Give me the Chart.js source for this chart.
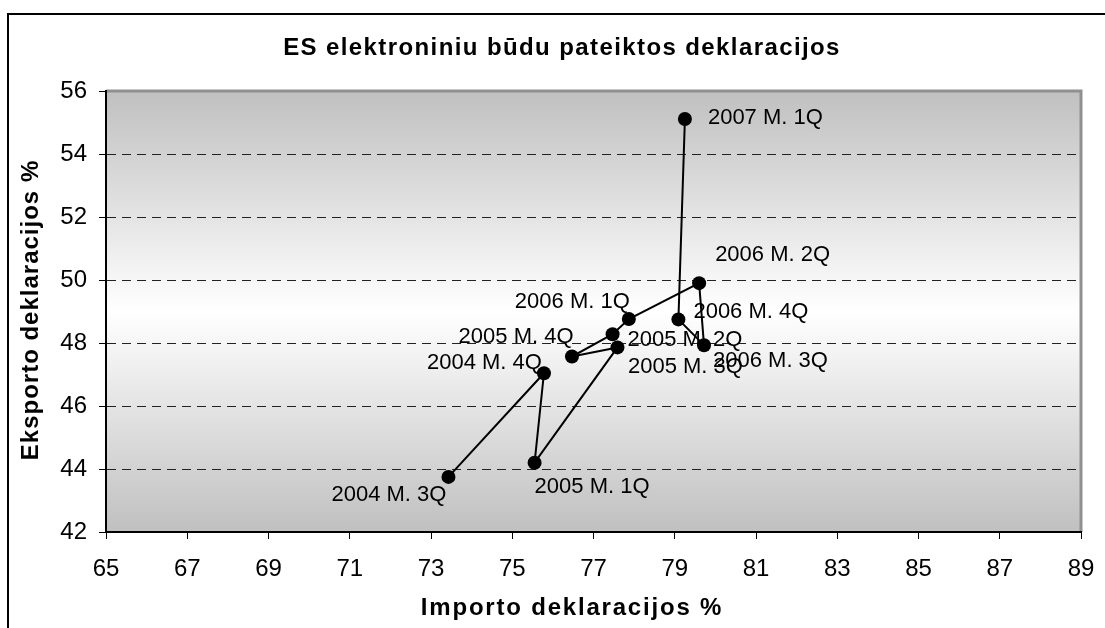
<!DOCTYPE html>
<html>
<head>
<meta charset="utf-8">
<script src="https://cdn.jsdelivr.net/npm/chart.js@4/dist/chart.umd.min.js"></script>
<style>
  body { margin: 0; background: #fff; overflow: hidden; }
  #frame { position: absolute; left: 7px; top: 13px; width: 1200px; height: 700px; border: 2px solid #000; }
  #wrap { position: absolute; left: 0; top: 0; width: 1105px; height: 628px; }
</style>
</head>
<body>
<div id="frame"></div>
<div id="wrap"><canvas id="esChart" width="1105" height="628"></canvas></div>
<script>
// quarters, import % (x) and export % (y)
const quarters = ['2004 M. 3Q', '2004 M. 4Q', '2005 M. 1Q', '2005 M. 2Q', '2005 M. 3Q', '2005 M. 4Q',
                  '2006 M. 1Q', '2006 M. 2Q', '2006 M. 3Q', '2006 M. 4Q', '2007 M. 1Q'];
const importPct = [73.43, 75.78, 75.55, 77.59, 76.47, 77.47, 77.87, 79.60, 79.72, 79.09, 79.25];
const exportPct = [43.75, 47.04, 44.20, 47.86, 47.57, 48.28, 48.76, 49.90, 47.93, 48.75, 55.11];

// where each label sits relative to its dot (px) - they were hand placed in the original
const labelOffsets = [[-117, 18], [-117, -10], [0, 24], [10, -7], [56, 10], [-154, 3],
                      [-114, -17], [16, -28], [9, 16], [15, -7], [23, -1]];

const FONT = '"Liberation Sans", Arial, sans-serif';

const points = importPct.map((x, i) => ({ x: x, y: exportPct[i] }));

// plot background + grey frame on top/right
const plotBg = {
  id: 'plotBg',
  beforeDraw(chart) {
    const { ctx, chartArea: a } = chart;
    const g = ctx.createLinearGradient(0, a.top, 0, a.bottom);
    g.addColorStop(0, '#c0c0c0');
    g.addColorStop(0.5, '#ffffff');
    g.addColorStop(1, '#c0c0c0');
    ctx.save();
    ctx.fillStyle = g;
    ctx.fillRect(a.left, a.top, a.right - a.left, a.bottom - a.top);
    ctx.strokeStyle = '#909090';
    ctx.lineWidth = 3;
    ctx.beginPath();
    ctx.moveTo(a.left, a.top);
    ctx.lineTo(a.right, a.top);
    ctx.lineTo(a.right, a.bottom);
    ctx.stroke();
    ctx.restore();
  }
};

// titles with letter spacing like the excel render
const titles = {
  id: 'titles',
  afterDraw(chart) {
    const ctx = chart.ctx;
    ctx.save();
    ctx.fillStyle = '#000';
    ctx.textAlign = 'center';
    ctx.textBaseline = 'middle';
    ctx.font = 'bold 24px ' + FONT;
    ctx.letterSpacing = '1.4px';
    ctx.fillText('ES elektroniniu būdu pateiktos deklaracijos', 562, 48);
    ctx.letterSpacing = '1.8px';
    ctx.fillText('Importo deklaracijos %', 572, 608);
    ctx.letterSpacing = '1px';
    ctx.translate(31, 310);
    ctx.rotate(-Math.PI / 2);
    ctx.fillText('Eksporto deklaracijos %', 0, 0);
    ctx.restore();
  }
};

// the quarter labels next to the dots
const pointLabels = {
  id: 'pointLabels',
  afterDatasetsDraw(chart) {
    const ctx = chart.ctx;
    const meta = chart.getDatasetMeta(0);
    ctx.save();
    ctx.fillStyle = '#000';
    ctx.font = '22px ' + FONT;
    ctx.textAlign = 'left';
    ctx.textBaseline = 'middle';
    meta.data.forEach((pt, i) => {
      const off = labelOffsets[i];
      ctx.fillText(quarters[i], pt.x + off[0], pt.y + off[1]);
    });
    ctx.restore();
  }
};

new Chart(document.getElementById('esChart'), {
  type: 'scatter',
  data: {
    datasets: [{
      data: points,
      showLine: true,
      borderColor: '#000',
      borderWidth: 2,
      tension: 0,
      pointRadius: 7,
      pointHoverRadius: 7,
      pointBackgroundColor: '#000',
      pointBorderWidth: 0,
      clip: false
    }]
  },
  options: {
    responsive: false,
    animation: false,
    events: [],
    layout: { padding: { left: 0, top: 91, right: 24, bottom: 0 } },
    plugins: { legend: { display: false }, title: { display: false }, tooltip: { enabled: false } },
    scales: {
      x: {
        type: 'linear',
        min: 65,
        max: 89,
        // small padding keeps the "89" overhang inside the right margin; lineHeight pushes labels down
        ticks: { stepSize: 2, color: '#000', padding: 10, maxRotation: 0, minRotation: 0,
                 font: { family: FONT, size: 24, lineHeight: 1.7 } },
        grid: { drawOnChartArea: false, tickLength: 7, tickColor: '#000', tickWidth: 1 },
        border: { color: '#000', width: 2 },
        afterFit(scale) { scale.height = 96; }
      },
      y: {
        type: 'linear',
        min: 42,
        max: 56,
        ticks: { stepSize: 2, color: '#000', padding: 12, font: { family: FONT, size: 24 } },
        grid: {
          color: ctx => (ctx.tick && (ctx.tick.value === 42 || ctx.tick.value === 56)) ? 'rgba(0,0,0,0)' : '#222',
          lineWidth: 1,
          tickLength: 7,
          tickColor: '#000',
          tickWidth: 1
        },
        border: { color: '#000', width: 2, dash: [9, 6] },
        afterFit(scale) { scale.width = 106; }
      }
    }
  },
  plugins: [plotBg, titles, pointLabels]
});
</script>
</body>
</html>
